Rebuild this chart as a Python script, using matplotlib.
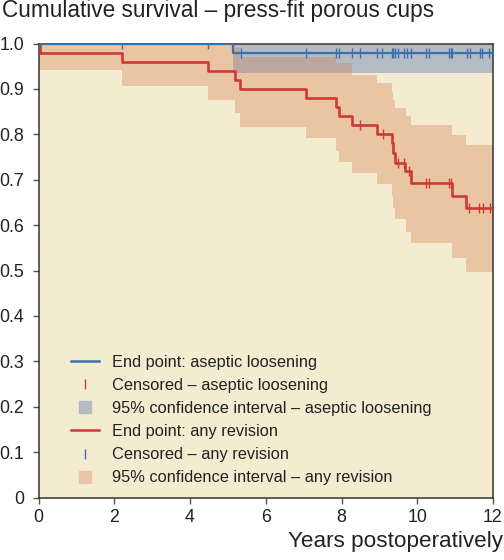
import matplotlib
matplotlib.use('Agg')
import matplotlib.pyplot as plt
from matplotlib.lines import Line2D
import numpy as np

plt.rcParams['font.family'] = ['Liberation Sans', 'DejaVu Sans']

# ---------------- data ----------------
X_MAX = 12
title_text = "Cumulative survival \u2013 press-fit porous cups"
xlabel_text = "Years postoperatively"
x_ticks = [0, 2, 4, 6, 8, 10, 12]
y_ticks = [0, 0.1, 0.2, 0.3, 0.4, 0.5, 0.6, 0.7, 0.8, 0.9, 1.0]
y_tick_labels = ["0", "0.1", "0.2", "0.3", "0.4", "0.5", "0.6", "0.7", "0.8", "0.9", "1.0"]

# End point: any revision (Kaplan-Meier)
rev_times = [0, 0.04, 2.21, 4.47, 5.18, 5.31, 7.05, 7.86, 7.93, 8.28, 8.94, 9.33, 9.36, 9.40, 9.68, 9.84, 10.92, 11.29]
rev_surv = [1.0, 0.98, 0.96, 0.94, 0.92, 0.90, 0.88, 0.86, 0.84, 0.82, 0.80, 0.78, 0.758, 0.737, 0.72, 0.692, 0.664, 0.637]
rev_ci_times = [0, 2.21, 4.47, 5.18, 5.31, 7.05, 7.86, 7.93, 8.28, 8.94, 9.33, 9.36, 9.40, 9.71, 9.84, 10.92, 11.29]
rev_ci_low = [0.942, 0.906, 0.876, 0.846, 0.817, 0.791, 0.764, 0.738, 0.714, 0.690, 0.663, 0.637, 0.613, 0.585, 0.561, 0.528, 0.496]
rev_ci_up = [1.0, 1.0, 1.0, 0.99, 0.97, 0.97, 0.956, 0.956, 0.93, 0.912, 0.894, 0.876, 0.859, 0.840, 0.820, 0.798, 0.776]
rev_censored = [8.48, 9.09, 9.49, 9.66, 9.77, 10.22, 10.31, 10.83, 10.88, 11.36, 11.62, 11.73, 11.91]

# End point: aseptic loosening
asl_times = [0, 5.14]
asl_surv = [1.0, 0.98]
asl_ci_times = [5.14]
asl_ci_low = [0.936]
asl_ci_up = [1.0]
asl_censored = [0.0, 2.21, 4.47, 5.34, 7.06, 7.85, 7.93, 8.28, 8.48, 8.95, 9.06, 9.33, 9.37, 9.41,
                9.49, 9.65, 9.74, 9.83, 10.23, 10.31, 10.84, 10.88, 10.92, 11.32, 11.39, 11.65, 11.72, 11.90]

legend_labels = ["End point: aseptic loosening",
                 "Censored \u2013 aseptic loosening",
                 "95% confidence interval \u2013 aseptic loosening",
                 "End point: any revision",
                 "Censored \u2013 any revision",
                 "95% confidence interval \u2013 any revision"]

# ---------------- style ----------------
BG = "#F4ECD1"
BLUE = "#3C70A8"
RED = "#CD3A34"
GRAY_CI = "#B5BBC5"
ORANGE_CI = "#E9C5A3"
OVERLAP = "#BCA69F"
TXT = "#222222"


def step_eval(times, vals, t):
    idx = np.searchsorted(np.asarray(times), np.asarray(t), side='right') - 1
    return np.asarray(vals)[np.clip(idx, 0, len(vals) - 1)]


def ext(times, vals):
    return list(times) + [X_MAX], list(vals) + [vals[-1]]


fig = plt.figure(figsize=(5.04, 5.6), dpi=100)
fig.patch.set_facecolor("white")
ax = fig.add_axes([38.5 / 504, 1 - 497.5 / 560, (493 - 38.5) / 504, (497.5 - 43.5) / 560])
ax.set_facecolor(BG)

# confidence bands
t, lo = ext(rev_ci_times, rev_ci_low)
_, up = ext(rev_ci_times, rev_ci_up)
ax.fill_between(t, lo, up, step='post', color=ORANGE_CI, lw=0, zorder=1)
t2, lo2 = ext(asl_ci_times, asl_ci_low)
_, up2 = ext(asl_ci_times, asl_ci_up)
ax.fill_between(t2, lo2, up2, step='post', color=GRAY_CI, lw=0, zorder=1.1)

# overlap of both bands
grid = sorted(set([x for x in rev_ci_times if x >= asl_ci_times[0]] + list(asl_ci_times)))
grid_e = grid + [X_MAX]
o_lo = np.maximum(step_eval(rev_ci_times, rev_ci_low, grid_e), step_eval(asl_ci_times, asl_ci_low, grid_e))
o_up = np.minimum(step_eval(rev_ci_times, rev_ci_up, grid_e), step_eval(asl_ci_times, asl_ci_up, grid_e))
o_up = np.maximum(o_up, o_lo)
ax.fill_between(grid_e, o_lo, o_up, step='post', color=OVERLAP, lw=0, zorder=1.2)

# survival curves
rt, rs = ext(rev_times, rev_surv)
ax.step(rt, rs, where='post', color=RED, lw=1.9, zorder=3)
at, as_ = ext(asl_times, asl_surv)
ax.step(at, as_, where='post', color=BLUE, lw=1.6, zorder=4)

# censor marks
ax.plot(rev_censored, step_eval(rev_times, rev_surv, rev_censored), ls='none', marker='|',
        ms=7.5, mew=1.0, color=RED, zorder=3.5)
ax.plot(asl_censored, step_eval(asl_times, asl_surv, asl_censored), ls='none', marker='|',
        ms=7, mew=1.0, color=BLUE, zorder=4.5)

ax.set_xlim(0, X_MAX)
ax.set_ylim(0, 1.0)
ax.set_xticks(x_ticks)
ax.set_xticklabels([str(v) for v in x_ticks])
ax.set_yticks(y_ticks)
ax.set_yticklabels(y_tick_labels)
ax.tick_params(axis='both', direction='out', length=4.5, width=1, color="#555555",
               labelsize=12.8, labelcolor=TXT)
ax.tick_params(axis='y', pad=6)
ax.tick_params(axis='x', pad=4)
for s in ax.spines.values():
    s.set_color("#333333")
    s.set_linewidth(1.1)

# legend
handles = [
    Line2D([], [], color=BLUE, lw=1.8),
    Line2D([], [], color=RED, ls='none', marker='|', ms=7, mew=1.0),
    Line2D([], [], color=GRAY_CI, ls='none', marker='s', ms=9),
    Line2D([], [], color=RED, lw=1.8),
    Line2D([], [], color=BLUE, ls='none', marker='|', ms=7, mew=1.0),
    Line2D([], [], color=ORANGE_CI, ls='none', marker='s', ms=9),
]
leg = fig.legend(handles, legend_labels, loc='upper left', bbox_to_anchor=(71 / 504, 1 - 354.5 / 560),
                 frameon=False, fontsize=11.8, handlelength=1.7, handletextpad=0.8,
                 labelspacing=0.5, borderpad=0, borderaxespad=0)
for txt in leg.get_texts():
    txt.set_color(TXT)

fig.text(2 / 504, 1 - 17 / 560, title_text, ha='left', va='baseline', fontsize=16.3, color=TXT)
fig.text(503 / 504, 1 - 547 / 560, xlabel_text, ha='right', va='baseline', fontsize=16.2, color=TXT)

fig.savefig("out.png", dpi=100)
